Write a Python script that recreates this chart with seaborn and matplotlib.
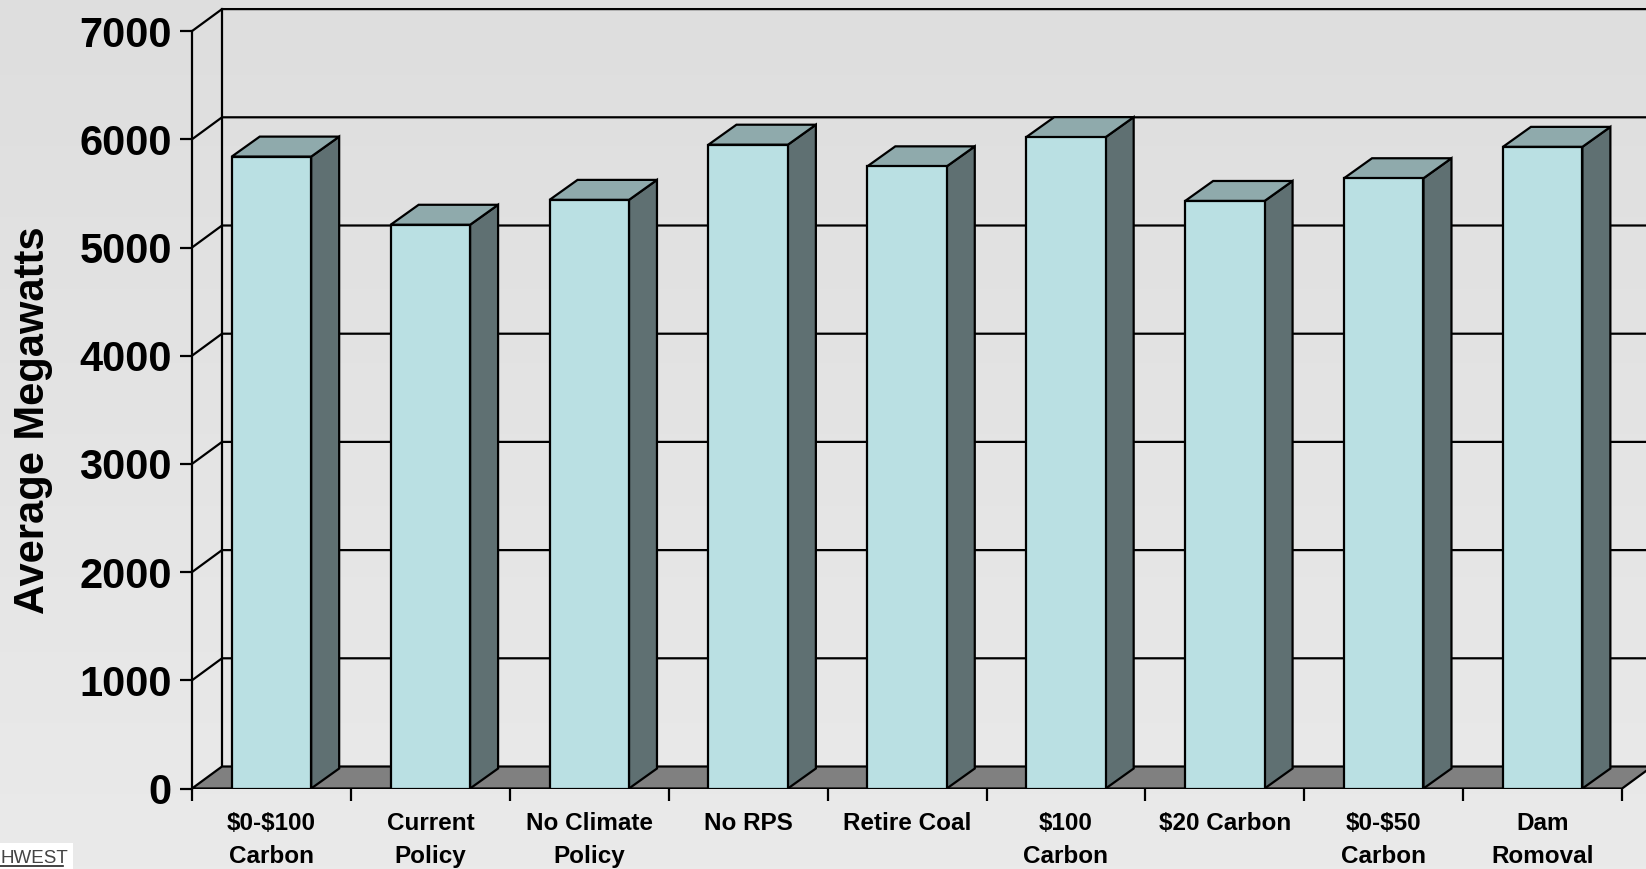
import numpy as np
import matplotlib
matplotlib.use("Agg")
import matplotlib.pyplot as plt
from matplotlib.colors import LinearSegmentedColormap
from matplotlib.patches import Polygon, Rectangle
import pandas as pd
import seaborn as sns

# --- data -------------------------------------------------------------
scenarios = ["$0-$100\nCarbon", "Current\nPolicy", "No Climate\nPolicy", "No RPS",
             "Retire Coal", "$100\nCarbon", "$20 Carbon", "$0-$50\nCarbon", "Dam\nRomoval"]
average_mw = [5840, 5210, 5440, 5950, 5750, 6020, 5430, 5640, 5930]
y_ticks = [0, 1000, 2000, 3000, 4000, 5000, 6000, 7000]
y_label = "Average Megawatts"

# --- styling ----------------------------------------------------------
FRONT = "#BAE0E3"
TOP = "#8FAAAC"
SIDE = "#5F7072"
FLOOR = "#808080"
LW = 1.6
FONT = ["Liberation Sans", "DejaVu Sans"]

W, H = 1646, 869
fig = plt.figure(figsize=(W / 100, H / 100), dpi=100)

# soft vertical background shade
bg = fig.add_axes([0, 0, 1, 1], zorder=0)
shade = LinearSegmentedColormap.from_list("shade", ["#dedede", "#eaeaea"])
bg.imshow(np.linspace(0, 1, 256).reshape(-1, 1), aspect="auto", cmap=shade,
          extent=[0, 1, 0, 1], origin="upper")
bg.set_axis_off()

# plotting area: front-left corner of the floor is the data origin
x0_px, y0_px = 192, 788.5
px_per_cat, px_per_1000 = 158.9, 108.2
ax = fig.add_axes([x0_px / W, (H - y0_px) / H, (W - x0_px) / W, y0_px / H], zorder=1)
ax.patch.set_alpha(0)

df = pd.DataFrame({"scenario": scenarios, "mw": average_mw})
sns.barplot(data=df, x="scenario", y="mw", color=FRONT, saturation=1, width=0.5,
            edgecolor="black", linewidth=LW, ax=ax, zorder=5)

n = len(scenarios)
xmin = -0.5
xmax = xmin + (W - x0_px) / px_per_cat
ymax = y0_px / px_per_1000 * 1000
ax.set_xlim(xmin, xmax)
ax.set_ylim(0, ymax)

# depth of the walls / bars in data units
DX, DY = 30 / px_per_cat, 22 / px_per_1000 * 1000
BDX, BDY = 28 / px_per_cat, 20 / px_per_1000 * 1000
top_val = y_ticks[-1]

# gridlines on side wall and back wall
for v in y_ticks[1:]:
    ax.plot([xmin, xmin + DX, xmax + 1], [v, v + DY, v + DY], color="black",
            lw=LW, zorder=2, solid_joinstyle="miter")
# wall edges
ax.plot([xmin, xmin], [0, top_val], color="black", lw=LW, zorder=2, clip_on=False)
ax.plot([xmin + DX, xmin + DX], [DY, top_val + DY], color="black", lw=LW, zorder=2)

# floor
ax.add_patch(Polygon([(xmin, 0), (n - 0.5, 0), (n - 0.5 + DX, DY), (xmin + DX, DY)],
                     closed=True, fc=FLOOR, ec="black", lw=LW, zorder=3,
                     joinstyle="miter"))

# 3-D faces for each bar
for p in list(ax.patches):
    if not isinstance(p, Rectangle):
        continue
    bx, bw, bh = p.get_x(), p.get_width(), p.get_height()
    ax.add_patch(Polygon([(bx + bw, 0), (bx + bw + BDX, BDY), (bx + bw + BDX, bh + BDY),
                          (bx + bw, bh)], closed=True, fc=SIDE, ec="black", lw=LW,
                         zorder=4, joinstyle="miter"))
    ax.add_patch(Polygon([(bx, bh), (bx + bw, bh), (bx + bw + BDX, bh + BDY),
                          (bx + BDX, bh + BDY)], closed=True, fc=TOP, ec="black",
                         lw=LW, zorder=4, joinstyle="miter"))

# axes decoration
for s in ax.spines.values():
    s.set_visible(False)
ax.set_xlabel("")
ax.set_ylabel("")
ax.set_yticks(y_ticks)
ax.set_yticklabels([str(v) for v in y_ticks], fontsize=30, fontweight="bold",
                   family=FONT)
ax.tick_params(axis="y", which="major", direction="out", length=8.6, width=LW,
               color="black", pad=6)

ax.set_xticks(range(n))
ax.set_xticklabels(scenarios, fontsize=17.5, fontweight="bold", family=FONT,
                   linespacing=1.55, parse_math=False)
ax.set_xticks(np.arange(-0.5, n, 1.0), minor=True)
ax.tick_params(axis="x", which="major", length=0, pad=17)
ax.tick_params(axis="x", which="minor", direction="out", length=8.6, width=LW,
               color="black")

fig.text(33 / W, 1 - 420 / H, y_label, rotation=90, ha="center", va="center",
         fontsize=30, fontweight="bold", family=FONT)

# organisation mark in the lower-left corner
fig.patches.append(Rectangle((0, 0), 73 / W, 26 / H, transform=fig.transFigure,
                             fc="white", ec="none", zorder=2))
fig.text(1 / W, 6 / H, "HWEST", fontsize=13.5, color="#444444", family=FONT,
         ha="left", va="baseline", zorder=3)
fig.lines.append(plt.Line2D([0, 63 / W], [3 / H, 3 / H], transform=fig.transFigure,
                            color="#222222", lw=1.2, zorder=3))

fig.savefig("out.png", dpi=100)
